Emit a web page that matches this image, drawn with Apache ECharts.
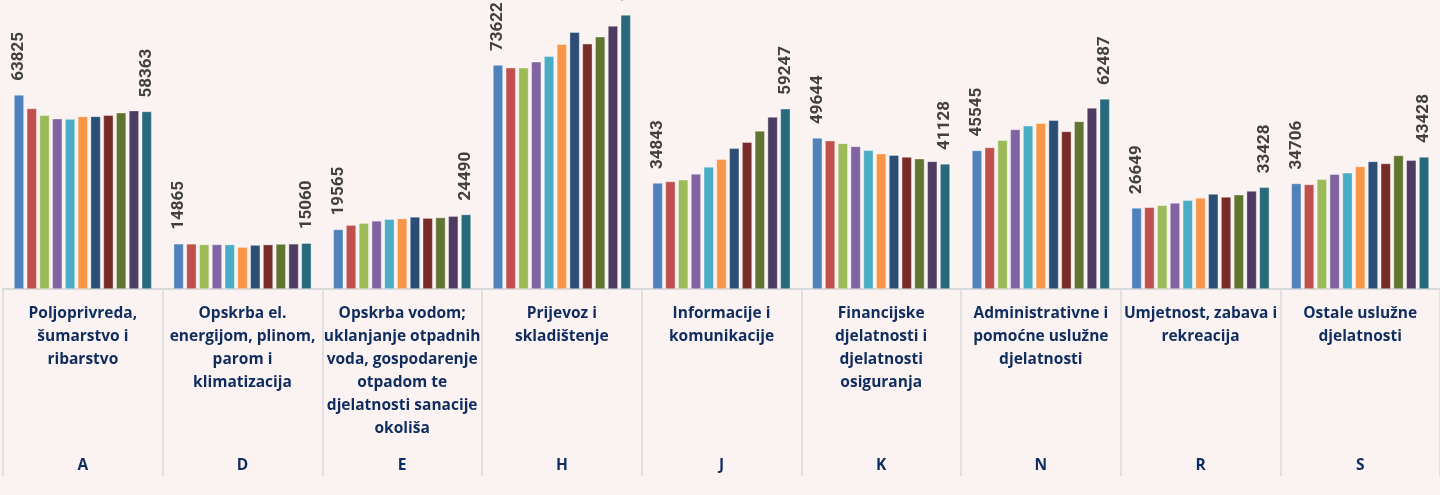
<!DOCTYPE html>
<html>
<head>
<meta charset="utf-8">
<script src="https://cdn.jsdelivr.net/npm/echarts@6/dist/echarts.min.js"></script>
<style>
  html, body { margin: 0; padding: 0; background: #FBF3F2; }
  #chart { width: 1440px; height: 495px; }
</style>
</head>
<body>
<div id="chart"></div>
<script>
// Category names (with the line breaks of the reference) and section letters
const categoryNames = [
  "Poljoprivreda,\nšumarstvo i\nribarstvo",
  "Opskrba el.\nenergijom, plinom,\nparom i\nklimatizacija",
  "Opskrba vodom;\nuklanjanje otpadnih\nvoda, gospodarenje\notpadom te\ndjelatnosti sanacije\nokoliša",
  "Prijevoz i\nskladištenje",
  "Informacije i\nkomunikacije",
  "Financijske\ndjelatnosti i\ndjelatnosti\nosiguranja",
  "Administrativne i\npomoćne uslužne\ndjelatnosti",
  "Umjetnost, zabava i\nrekreacija",
  "Ostale uslužne\ndjelatnosti"
];
const categoryLetters = ["A", "D", "E", "H", "J", "K", "N", "R", "S"];

// Values per sector (11 consecutive periods, first and last labelled)
const valsA = [63825, 59370, 57100, 56000, 55860, 56750, 56750, 57100, 57950, 58650, 58363];
const valsD = [14865, 14850, 14650, 14640, 14620, 13780, 14450, 14600, 14800, 14850, 15060];
const valsE = [19565, 21000, 21650, 22400, 22950, 23150, 23700, 23300, 23500, 23950, 24490];
const valsH = [73622, 72750, 72750, 74700, 76550, 80500, 84420, 80600, 82900, 86500, 90100];
const valsJ = [34843, 35350, 35900, 37850, 40150, 42650, 46250, 48250, 51950, 56550, 59247];
const valsK = [49644, 48750, 47880, 46900, 45600, 44500, 43950, 43400, 42850, 41950, 41128];
const valsN = [45545, 46550, 48950, 52450, 53650, 54500, 55500, 51800, 55100, 59550, 62487];
const valsR = [26649, 26870, 27520, 28290, 29160, 29930, 31240, 30260, 31020, 32220, 33428];
const valsS = [34706, 34380, 36120, 37760, 38190, 40280, 41930, 41270, 43890, 42350, 43428];

const seriesColors = ["#4F81BD", "#C0504D", "#9BBB59", "#8064A2", "#4BACC6", "#F79646",
                      "#2C4D75", "#772C2A", "#5F7530", "#4D3B62", "#276A7C"];

const sectors = [valsA, valsD, valsE, valsH, valsJ, valsK, valsN, valsR, valsS];
const nSeries = valsA.length;

const textColor = "#0F2C5F";
const series = [];
for (let i = 0; i < nSeries; i++) {
  const labelled = (i === 0 || i === nSeries - 1);
  series.push({
    type: "bar",
    data: sectors.map(s => s[i]),
    barGap: "28%",
    barCategoryGap: "13.75%",
    itemStyle: { color: seriesColors[i], borderColor: "rgba(255,255,255,0.6)", borderWidth: 0.6 },
    label: {
      show: labelled,
      position: ["50%", -14],
      rotate: 90,
      align: "left",
      verticalAlign: "middle",
      color: "#404040",
      fontSize: 17,
      fontWeight: "bold",
      fontFamily: "Roboto, sans-serif"
    },
    silent: true,
    animation: false
  });
}

const chart = echarts.init(document.getElementById("chart"), null, { renderer: "canvas" });
chart.setOption({
  backgroundColor: "#FBF3F2",
  animation: false,
  grid: { left: 3, right: -3, top: 0, bottom: 206, containLabel: false },
  xAxis: [
    {
      type: "category",
      data: categoryNames,
      position: "bottom",
      axisLine: { show: true, lineStyle: { color: "#D9D9D9", width: 2 } },
      axisTick: { show: true, length: 187, interval: 0, lineStyle: { color: "#D9D9D9", width: 1.5 } },
      axisLabel: {
        interval: 0,
        margin: 13,
        color: textColor,
        fontSize: 15.5,
        fontWeight: "bold",
        fontFamily: "'Open Sans', sans-serif",
        lineHeight: 23,
        verticalAlign: "top"
      }
    },
    {
      type: "category",
      data: categoryLetters,
      position: "bottom",
      gridIndex: 0,
      axisLine: { show: false },
      axisTick: { show: false },
      axisLabel: {
        interval: 0,
        margin: 167,
        color: textColor,
        fontSize: 15.5,
        fontWeight: "bold",
        fontFamily: "'Open Sans', sans-serif",
        lineHeight: 20,
        verticalAlign: "top"
      }
    }
  ],
  yAxis: { type: "value", min: 0, max: 95000, show: false, splitLine: { show: false } },
  series: series
});
</script>
</body>
</html>
